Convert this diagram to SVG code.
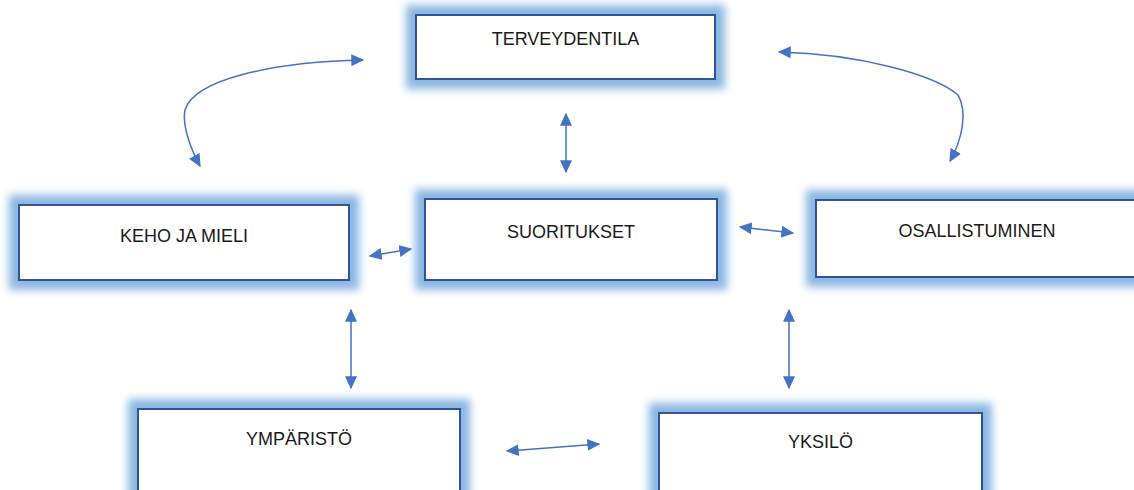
<svg xmlns="http://www.w3.org/2000/svg" width="1134" height="490" viewBox="0 0 1134 490">
  <style>
    .glow { fill: #8ab6e2; filter: url(#soft); }
    .box { fill: #ffffff; stroke: #2f5597; stroke-width: 2; }
    .label { font-family: "Liberation Sans", Arial, sans-serif; font-size: 18px; fill: #1a1a1a; text-anchor: middle; }
    .link { fill: none; stroke: #4472c4; stroke-width: 1.5; marker-start: url(#head); marker-end: url(#head); }
  </style>
  <defs>
    <filter id="soft" x="-20%" y="-40%" width="140%" height="180%">
      <feGaussianBlur stdDeviation="4.5"/>
    </filter>
    <marker id="head" viewBox="0 0 10 10" refX="9" refY="5" markerWidth="13" markerHeight="12" markerUnits="userSpaceOnUse" orient="auto-start-reverse" preserveAspectRatio="none">
      <path d="M0,0 L10,5 L0,10 Z" fill="#4472c4"/>
    </marker>
  </defs>
  <rect width="1134" height="490" fill="#ffffff"/>

  <g id="terveydentila">
    <rect class="glow" x="406" y="5" width="319" height="84"/>
    <rect class="box" x="416" y="15" width="299" height="64"/>
    <text class="label" x="565.5" y="45">TERVEYDENTILA</text>
  </g>

  <g id="keho-ja-mieli">
    <rect class="glow" x="9" y="195" width="350" height="95"/>
    <rect class="box" x="19" y="205" width="330" height="75"/>
    <text class="label" x="184" y="242">KEHO JA MIELI</text>
  </g>

  <g id="suoritukset">
    <rect class="glow" x="415" y="189" width="312" height="101"/>
    <rect class="box" x="425" y="199" width="292" height="81"/>
    <text class="label" x="571" y="238">SUORITUKSET</text>
  </g>

  <g id="osallistuminen">
    <rect class="glow" x="806" y="190" width="342" height="97"/>
    <rect class="box" x="816" y="200" width="322" height="77"/>
    <text class="label" x="977" y="237">OSALLISTUMINEN</text>
  </g>

  <g id="ymparisto">
    <rect class="glow" x="128" y="399" width="342" height="103"/>
    <rect class="box" x="138" y="409" width="322" height="85"/>
    <text class="label" x="299" y="445">YMPÄRISTÖ</text>
  </g>

  <g id="yksilo">
    <rect class="glow" x="649" y="403" width="343" height="99"/>
    <rect class="box" x="659" y="413" width="323" height="80"/>
    <text class="label" x="820.5" y="448">YKSILÖ</text>
  </g>

  <g id="connectors">
    <!-- curved links from the outer boxes up to TERVEYDENTILA -->
    <path class="link" d="M200,166 C190,148 182,124 185,110 C194,80 270,62 363,60"/>
    <path class="link" d="M779,52 C860,54 935,75 958,95 C968,112 962,140 950,161"/>
    <!-- straight double-headed links -->
    <line class="link" x1="566" y1="114" x2="566" y2="172"/>
    <line class="link" x1="370" y1="256" x2="411" y2="249"/>
    <line class="link" x1="740" y1="227" x2="793" y2="233"/>
    <line class="link" x1="351" y1="310" x2="351" y2="388"/>
    <line class="link" x1="789" y1="310" x2="789" y2="388"/>
    <line class="link" x1="507" y1="451" x2="599" y2="444"/>
  </g>
</svg>
